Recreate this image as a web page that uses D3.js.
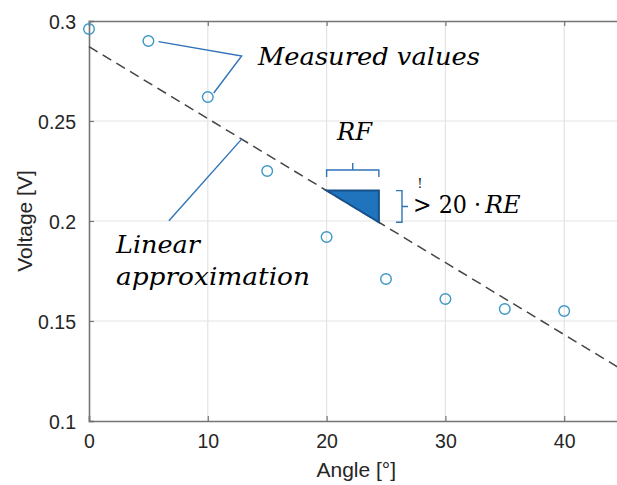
<!DOCTYPE html>
<html>
<head>
<meta charset="utf-8">
<script src="https://cdn.jsdelivr.net/npm/d3@7"></script>
<style>
  html, body { margin: 0; padding: 0; background: #fff; overflow: hidden; }
  svg { display: block; }
</style>
</head>
<body>
<svg id="chart" width="617" height="485"></svg>
<script>
// ---- data ----
const angles   = [0, 5, 10, 15, 20, 25, 30, 35, 40];
const voltages = [0.296, 0.290, 0.262, 0.225, 0.192, 0.171, 0.161, 0.156, 0.155];
const fitIntercept = 0.2872;   // V at 0°
const fitSlope = -0.0036;      // V per degree
const fitAngles = [0, 45];
const triangleAngles = [20, 24.4];
const xTicks = [0, 10, 20, 30, 40];
const yTicks = [0.1, 0.15, 0.2, 0.25, 0.3];
const xDomain = [0, 45];
const yDomain = [0.1, 0.3];

const W = 617, H = 485;
const mLeft = 89, mTop = 21, mBottom = 421, mRight = 89 + 45 * 11.88;

const svg = d3.select("#chart");
const x = d3.scaleLinear().domain(xDomain).range([mLeft, mRight]);
const y = d3.scaleLinear().domain(yDomain).range([mBottom, mTop]);
const fit = a => fitIntercept + fitSlope * a;

const axisColor = "#757575";
const gridColor = "#e3e3e3";
const textColor = "#262626";
const markerColor = "#3b97c4";
const annoColor = "#2f73b8";

// grid
svg.append("g").selectAll("line").data(xTicks.filter(d => d > 0)).join("line")
  .attr("x1", d => x(d)).attr("x2", d => x(d)).attr("y1", mTop).attr("y2", mBottom)
  .attr("stroke", gridColor).attr("stroke-width", 1.2);
svg.append("g").selectAll("line").data(yTicks.filter(d => d > 0.1 && d < 0.3)).join("line")
  .attr("x1", mLeft).attr("x2", mRight).attr("y1", d => y(d)).attr("y2", d => y(d))
  .attr("stroke", gridColor).attr("stroke-width", 1.2);

// axes
const xAxis = d3.axisBottom(x).tickValues(xTicks).tickSize(-5).tickPadding(13).tickFormat(d3.format("d"));
const gx = svg.append("g").attr("transform", `translate(0,${mBottom})`).call(xAxis);
const xTopAxis = d3.axisTop(x).tickValues(xTicks).tickSize(-5).tickFormat("");
const gxt = svg.append("g").attr("transform", `translate(0,${mTop})`).call(xTopAxis);
const yAxis = d3.axisLeft(y).tickValues(yTicks).tickSize(-5).tickPadding(13).tickFormat(d => String(+d.toFixed(2)));
const gy = svg.append("g").attr("transform", `translate(${mLeft},0)`).call(yAxis);

[gx, gxt, gy].forEach(g => {
  g.select(".domain").attr("stroke", axisColor).attr("stroke-width", 1.6);
  g.selectAll(".tick line").attr("stroke", axisColor).attr("stroke-width", 1.2);
  g.selectAll(".tick text").attr("fill", textColor)
    .style("font-family", "'Liberation Sans', Arial, sans-serif").style("font-size", "19.5px");
});
gy.selectAll(".tick text").attr("dy", "0.36em");

// axis labels
svg.append("text").attr("x", x(22.5)).attr("y", 477)
  .attr("text-anchor", "middle").attr("fill", textColor)
  .style("font-family", "'Liberation Sans', Arial, sans-serif").style("font-size", "21px")
  .text("Angle [°]");
svg.append("text").attr("transform", `translate(32,${y(0.2)}) rotate(-90)`)
  .attr("text-anchor", "middle").attr("fill", textColor)
  .style("font-family", "'Liberation Sans', Arial, sans-serif").style("font-size", "21px")
  .text("Voltage [V]");

// fit line (dashed)
svg.append("line")
  .attr("x1", x(fitAngles[0])).attr("y1", y(fit(fitAngles[0])))
  .attr("x2", x(fitAngles[1])).attr("y2", y(fit(fitAngles[1])))
  .attr("stroke", "#444").attr("stroke-width", 1.5).attr("stroke-dasharray", "10,6");

// triangle
const [ta, tb] = triangleAngles;
svg.append("path")
  .attr("d", d3.line()([[x(ta), y(fit(ta))], [x(tb), y(fit(ta))], [x(tb), y(fit(tb))]]) + "Z")
  .attr("fill", "#1f74bd").attr("stroke", "#17508a").attr("stroke-width", 2).attr("stroke-linejoin", "miter");

// markers
svg.append("g").selectAll("circle").data(angles).join("circle")
  .attr("cx", (d) => x(d)).attr("cy", (d, i) => y(voltages[i])).attr("r", 5.3)
  .attr("fill", "none").attr("stroke", markerColor).attr("stroke-width", 1.4);

// annotation pointers
const pMeas = [[5.85, 0.2897], [12.85, 0.2825], [10.5, 0.2640]];
svg.append("path").attr("d", d3.line()(pMeas.map(p => [x(p[0]), y(p[1])])))
  .attr("fill", "none").attr("stroke", annoColor).attr("stroke-width", 1.4);
const pLin = [[6.73, 0.2001], [12.85, fit(12.85)]];
svg.append("path").attr("d", d3.line()(pLin.map(p => [x(p[0]), y(p[1])])))
  .attr("fill", "none").attr("stroke", annoColor).attr("stroke-width", 1.4);

// RF brace (horizontal, above triangle)
const bx1 = x(ta), bx2 = x(tb), bm = (bx1 + bx2) / 2;
const byEnd = 177, byLine = 170, byTip = 163;
svg.append("path")
  .attr("d", `M${bx1},${byEnd} L${bx1},${byLine} L${bx2},${byLine} L${bx2},${byEnd} M${bm},${byLine} L${bm},${byTip}`)
  .attr("fill", "none").attr("stroke", annoColor).attr("stroke-width", 1.4);

// RE brace (vertical, right of triangle)
const vy1 = y(fit(ta)), vy2 = y(fit(tb)), vm = (vy1 + vy2) / 2;
svg.append("path")
  .attr("d", `M396,${vy1} L402,${vy1} L402,${vy2} L396,${vy2} M402,${vm} L408,${vm}`)
  .attr("fill", "none").attr("stroke", annoColor).attr("stroke-width", 1.4);

// annotation texts
const serif = "'DejaVu Serif', 'Liberation Serif', serif";
function stext(tx, ty, str, size, len, italic) {
  const t = svg.append("text").attr("x", tx).attr("y", ty).attr("fill", "#000")
    .style("font-family", serif).style("font-style", italic ? "italic" : "normal")
    .style("font-size", size + "px")
    .text(str);
  if (len) t.attr("textLength", len).attr("lengthAdjust", "spacingAndGlyphs");
  return t;
}
stext(258, 65, "Measured values", 25, 222, true);
stext(116, 253, "Linear", 25, 84, true);
stext(116, 285, "approximation", 25, 194, true);
stext(337, 140, "RF", 25, 35, true);
stext(413, 213, "> 20 ·", 24, 68, false);
stext(485, 213, "RE", 24, 0, true);
svg.append("text").attr("x", 420).attr("y", 188).attr("text-anchor", "middle").attr("fill", "#000")
  .style("font-family", serif).style("font-size", "12px").text("!");
</script>
</body>
</html>
